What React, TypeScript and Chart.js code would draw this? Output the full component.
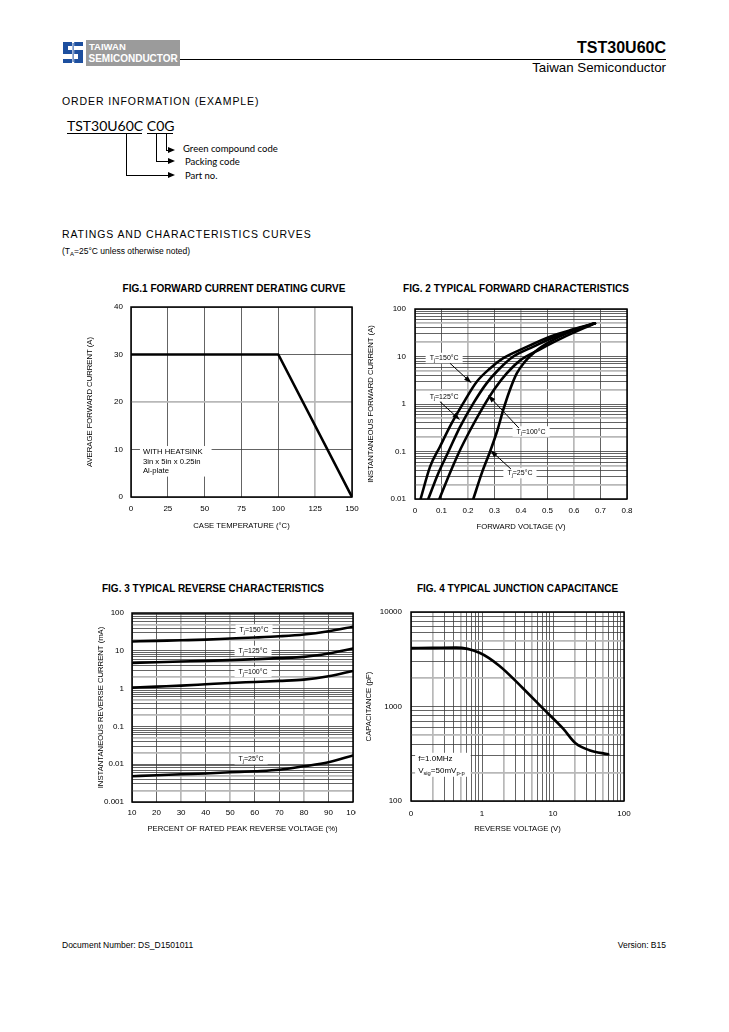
import React, { useEffect, useRef } from 'react';
import { Chart, registerables } from 'chart.js';

Chart.register(...registerables);

const FAM = 'Arial, "Liberation Sans", Helvetica, sans-serif';
const CAL = 'Lato, "Open Sans", sans-serif';
const TITLE_SIZE = 7.7;
const TICK_SIZE = 8;

// ---------------- data ----------------
// Fig 1
const fig1Temp = [0, 100, 150];
const fig1Current = [30, 30, 0];
const fig1XTicks = [0, 25, 50, 75, 100, 125, 150];
const fig1YTicks = [0, 10, 20, 30, 40];

// Fig 2 (forward voltage V, forward current A)
const fig2XTicks = [0, 0.1, 0.2, 0.3, 0.4, 0.5, 0.6, 0.7, 0.8];
const fig2XLabels = ['0', '0.1', '0.2', '0.3', '0.4', '0.5', '0.6', '0.7', '0.8'];
const fig2YMajor = [0.01, 0.1, 1, 10, 100];
const fig2YLabels = ['0.01', '0.1', '1', '10', '100'];
const fig2V150 = [0.021, 0.057, 0.094, 0.138, 0.189, 0.233, 0.283, 0.333, 0.409, 0.509, 0.597, 0.679];
const fig2I150 = [0.01, 0.048, 0.126, 0.39, 1.21, 2.95, 5.6, 9.2, 14.8, 26.1, 37.3, 50];
const fig2V125 = [0.05, 0.088, 0.126, 0.17, 0.22, 0.27, 0.314, 0.371, 0.447, 0.535, 0.679];
const fig2I125 = [0.01, 0.035, 0.099, 0.33, 1.03, 2.72, 5.2, 10, 16.1, 27, 50];
const fig2V100 = [0.092, 0.126, 0.164, 0.208, 0.258, 0.302, 0.346, 0.396, 0.472, 0.56, 0.679];
const fig2I100 = [0.01, 0.0295, 0.091, 0.28, 0.88, 2.14, 4.4, 8.2, 14.2, 25.3, 50];
const fig2V25 = [0.22, 0.252, 0.283, 0.311, 0.333, 0.358, 0.384, 0.415, 0.453, 0.509, 0.585, 0.679];
const fig2I25 = [0.01, 0.035, 0.099, 0.28, 0.75, 1.97, 4.4, 7.8, 12.6, 20.5, 33.3, 50];

// Fig 3 (percent of rated voltage, reverse current mA)
const fig3Pct = [10, 20, 30, 40, 50, 60, 70, 80, 90, 100];
const fig3XLabels = ['10', '20', '30', '40', '50', '60', '70', '80', '90', '100'];
const fig3YMajor = [0.001, 0.01, 0.1, 1, 10, 100];
const fig3YLabels = ['0.001', '0.01', '0.1', '1', '10', '100'];
const fig3I150 = [17.6, 18.3, 19.0, 19.8, 21.2, 22.5, 24.2, 27.0, 33.0, 43.4];
const fig3I125 = [4.8, 5.0, 5.2, 5.4, 5.65, 6.0, 6.4, 6.9, 8.5, 11.5];
const fig3I100 = [1.06, 1.13, 1.2, 1.3, 1.41, 1.5, 1.6, 1.73, 2.12, 2.94];
const fig3I25 = [0.0048, 0.0051, 0.0054, 0.0057, 0.0061, 0.0065, 0.0071, 0.0088, 0.0113, 0.017];

// Fig 4 (reverse voltage V, capacitance pF)
const fig4XMajor = [0.1, 1, 10, 100];
const fig4XLabels = ['0', '1', '10', '100'];
const fig4YMajor = [100, 1000, 10000];
const fig4YLabels = ['100', '1000', '10000'];
const fig4V = [0.1, 0.2, 0.43, 0.92, 1.75, 3.74, 7.15, 13.7, 21, 32.5, 60];
const fig4C = [4150, 4170, 4200, 3700, 2700, 1570, 960, 590, 405, 345, 312];

// ---------------- helpers ----------------
type Seg = { t: string; sub?: boolean };
type Lab = {
  x: number; y: number; lines: Seg[][]; align: 'left' | 'center';
  size: number; gap: number; padX: number; padR?: number;
};
type Arrow = { x1: number; y1: number; x2: number; y2: number };
type AxisSpec = {
  type: 'linear' | 'logarithmic';
  min: number;
  max: number;
  ticks: number[];
  label: (v: number) => string;
  title: string;
  gray: (v: number) => boolean;
};
type Series = { x: number[]; y: number[]; smooth: boolean };
type PlotSpec = {
  canvas: [number, number, number, number];
  area: [number, number, number, number];
  yTitleX: number;
  xTitleY: number;
  yTickRight: number;
  xTickY: number;
  x: AxisSpec;
  y: AxisSpec;
  series: Series[];
  labels: Lab[];
  arrows: Arrow[];
};

const near = (a: number, b: number) => Math.abs(a - b) <= Math.abs(b) * 1e-6 + 1e-9;

function logTicks(e0: number, e1: number): number[] {
  const out: number[] = [];
  for (let e = e0; e < e1; e++) {
    for (let s = 1; s <= 9; s++) out.push(parseFloat((s * Math.pow(10, e)).toPrecision(6)));
  }
  out.push(parseFloat(Math.pow(10, e1).toPrecision(6)));
  return out;
}
function lookup(values: number[], labels: string[]) {
  return (v: number) => {
    const i = values.findIndex((w) => near(v, w));
    return i >= 0 ? labels[i] : '';
  };
}
function sig(v: number) {
  const e = Math.floor(Math.log10(v) + 1e-9);
  return Math.round(v / Math.pow(10, e));
}
const grayLog = (v: number) => v > 0 && (sig(v) === 2 || sig(v) === 5);
const grayIn = (list: number[]) => (v: number) => list.some((w) => near(v, w));

const framePlugin = {
  id: 'frame',
  beforeDatasetsDraw(chart: any) {
    const { ctx, chartArea } = chart;
    ctx.save();
    ctx.strokeStyle = '#000';
    ctx.lineWidth = 1.5;
    ctx.strokeRect(chartArea.left, chartArea.top, chartArea.right - chartArea.left, chartArea.bottom - chartArea.top);
    ctx.restore();
  },
};

function annotPlugin(labels: Lab[], arrows: Arrow[]) {
  return {
    id: 'annot',
    beforeDatasetsDraw(chart: any) {
      const ctx = chart.ctx;
      const xs = chart.scales.x;
      const ys = chart.scales.y;
      ctx.save();
      for (const l of labels) {
        const segFont = (s: Seg) => `${s.sub ? l.size * 0.72 : l.size}px ${FAM}`;
        const widths = l.lines.map((line) =>
          line.reduce((acc, s) => {
            ctx.font = segFont(s);
            return acc + ctx.measureText(s.t).width;
          }, 0)
        );
        const maxW = Math.max(...widths);
        const px = xs.getPixelForValue(l.x);
        const py = ys.getPixelForValue(l.y);
        const left = l.align === 'center' ? px - maxW / 2 : px;
        const padTop = l.size * 0.78;
        const padBot = l.size * 0.72;
        const padR = l.padR ?? l.padX;
        ctx.fillStyle = '#fff';
        ctx.fillRect(left - l.padX, py - padTop, maxW + l.padX + padR, (l.lines.length - 1) * l.gap + padTop + padBot);
        ctx.fillStyle = '#000';
        ctx.textBaseline = 'middle';
        ctx.textAlign = 'left';
        l.lines.forEach((line, i) => {
          let cx = l.align === 'center' ? px - widths[i] / 2 : left;
          const cy = py + i * l.gap;
          for (const s of line) {
            ctx.font = segFont(s);
            ctx.fillText(s.t, cx, s.sub ? cy + l.size * 0.3 : cy);
            cx += ctx.measureText(s.t).width;
          }
        });
      }
      ctx.restore();
    },
    afterDatasetsDraw(chart: any) {
      const ctx = chart.ctx;
      const xs = chart.scales.x;
      const ys = chart.scales.y;
      ctx.save();
      ctx.strokeStyle = '#000';
      ctx.fillStyle = '#000';
      ctx.lineWidth = 1;
      for (const a of arrows) {
        const x1 = xs.getPixelForValue(a.x1);
        const y1 = ys.getPixelForValue(a.y1);
        const x2 = xs.getPixelForValue(a.x2);
        const y2 = ys.getPixelForValue(a.y2);
        const ang = Math.atan2(y2 - y1, x2 - x1);
        const c = Math.cos(ang);
        const s = Math.sin(ang);
        ctx.beginPath();
        ctx.moveTo(x1, y1);
        ctx.lineTo(x2 - 5 * c, y2 - 5 * s);
        ctx.stroke();
        ctx.beginPath();
        ctx.moveTo(x2, y2);
        ctx.lineTo(x2 - 8 * c + 2.6 * s, y2 - 8 * s - 2.6 * c);
        ctx.lineTo(x2 - 8 * c - 2.6 * s, y2 - 8 * s + 2.6 * c);
        ctx.closePath();
        ctx.fill();
      }
      ctx.restore();
    },
  };
}

function buildConfig(p: PlotSpec) {
  const [L, T, W, H] = p.canvas;
  const [cl, ct, cr, cb] = p.area;
  const tlh = TITLE_SIZE * 1.2;
  const sLeft = p.yTitleX - tlh / 2;
  const sBottom = p.xTitleY + tlh / 2;
  const yWidth = cl - sLeft;
  const xHeight = sBottom - cb;
  const axis = (a: AxisSpec, horiz: boolean) => ({
    type: a.type,
    min: a.min,
    max: a.max,
    afterBuildTicks: (s: any) => {
      s.ticks = a.ticks.map((v) => ({ value: v }));
    },
    afterFit: (s: any) => {
      if (horiz) s.height = xHeight;
      else s.width = yWidth;
      s.paddingLeft = 0;
      s.paddingRight = 0;
      s.paddingTop = 0;
      s.paddingBottom = 0;
    },
    grid: {
      drawTicks: false,
      color: (c: any) => (c.tick && a.gray(c.tick.value) ? '#b8b8b8' : '#3c3c3c'),
      lineWidth: (c: any) => (c.tick && a.gray(c.tick.value) ? 1.7 : 0.8),
    },
    border: { display: false },
    ticks: {
      autoSkip: false,
      maxRotation: 0,
      minRotation: 0,
      padding: horiz ? p.xTickY - (TICK_SIZE * 1.2) / 2 - cb : cl - p.yTickRight,
      color: '#000',
      font: { family: FAM, size: TICK_SIZE },
      callback: (v: any) => a.label(Number(v)),
    },
    title: {
      display: true,
      text: a.title,
      color: '#000',
      font: { family: FAM, size: TITLE_SIZE },
      padding: 0,
    },
  });
  return {
    type: 'line',
    data: {
      datasets: p.series.map((d) => ({
        data: d.x.map((v, i) => ({ x: v, y: d.y[i] })),
        borderColor: '#000',
        borderWidth: 2.6,
        pointRadius: 0,
        fill: false,
        tension: d.smooth ? 0.4 : 0,
        cubicInterpolationMode: d.smooth ? 'monotone' : 'default',
        borderCapStyle: 'round',
        borderJoinStyle: 'round',
      })),
    },
    options: {
      responsive: false,
      maintainAspectRatio: false,
      animation: false,
      events: [],
      layout: {
        padding: {
          left: sLeft - L,
          top: ct - T,
          right: L + W - cr,
          bottom: T + H - sBottom,
        },
      },
      plugins: { legend: { display: false }, tooltip: { enabled: false }, title: { display: false } },
      scales: { x: axis(p.x, true), y: axis(p.y, false) },
    },
    plugins: [framePlugin, annotPlugin(p.labels, p.arrows)],
  };
}

function Plot({ spec }: { spec: PlotSpec }) {
  const ref = useRef<HTMLCanvasElement>(null);
  useEffect(() => {
    const chart = new Chart(ref.current as HTMLCanvasElement, buildConfig(spec) as any);
    return () => chart.destroy();
  }, []);
  const [L, T, W, H] = spec.canvas;
  return (
    <canvas
      ref={ref}
      width={W}
      height={H}
      style={{ position: 'absolute', left: L, top: T, width: W, height: H }}
    />
  );
}

const tj = (rest: string): Seg[] => [{ t: 'T' }, { t: 'j', sub: true }, { t: rest }];

// ---------------- chart specs ----------------
const fig1Spec: PlotSpec = {
  canvas: [78, 298, 292, 240],
  area: [131, 307, 352, 497],
  yTitleX: 90,
  xTitleY: 526,
  yTickRight: 123,
  xTickY: 509,
  x: {
    type: 'linear', min: 0, max: 150, ticks: fig1XTicks,
    label: (v) => String(v), title: 'CASE TEMPERATURE (°C)', gray: grayIn([125]),
  },
  y: {
    type: 'linear', min: 0, max: 40, ticks: fig1YTicks,
    label: (v) => String(v), title: 'AVERAGE FORWARD CURRENT (A)', gray: grayIn([20]),
  },
  series: [{ x: fig1Temp, y: fig1Current, smooth: false }],
  labels: [
    {
      x: 8.1, y: 9.47, align: 'left', size: 7.7, gap: 9.5, padX: 3, padR: 9,
      lines: [[{ t: 'WITH HEATSINK' }], [{ t: '3in x 5in x 0.25in' }], [{ t: 'Al-plate' }]],
    },
  ],
  arrows: [],
};

const fig2Spec: PlotSpec = {
  canvas: [358, 298, 282, 240],
  area: [415, 309, 627, 499],
  yTitleX: 371,
  xTitleY: 527,
  yTickRight: 406,
  xTickY: 511,
  x: {
    type: 'linear', min: 0, max: 0.8, ticks: fig2XTicks,
    label: lookup(fig2XTicks, fig2XLabels), title: 'FORWARD VOLTAGE (V)', gray: grayIn([0.2, 0.4, 0.6]),
  },
  y: {
    type: 'logarithmic', min: 0.01, max: 100, ticks: logTicks(-2, 2),
    label: lookup(fig2YMajor, fig2YLabels), title: 'INSTANTANEOUS FORWARD CURRENT (A)', gray: grayLog,
  },
  series: [
    { x: fig2V150, y: fig2I150, smooth: true },
    { x: fig2V125, y: fig2I125, smooth: true },
    { x: fig2V100, y: fig2I100, smooth: true },
    { x: fig2V25, y: fig2I25, smooth: true },
  ],
  labels: [
    { x: 0.11, y: 9.2, align: 'center', size: 7, gap: 0, padX: 4, lines: [tj('=150°C')] },
    { x: 0.11, y: 1.43, align: 'center', size: 7, gap: 0, padX: 4, lines: [tj('=125°C')] },
    { x: 0.438, y: 0.261, align: 'center', size: 7, gap: 0, padX: 4, lines: [tj('=100°C')] },
    { x: 0.396, y: 0.0348, align: 'center', size: 7, gap: 0, padX: 4, lines: [tj('=25°C')] },
  ],
  arrows: [
    { x1: 0.132, y1: 7.2, x2: 0.214, y2: 2.73 },
    { x1: 0.094, y1: 1.12, x2: 0.17, y2: 0.46 },
    { x1: 0.392, y1: 0.312, x2: 0.275, y2: 1.55 },
    { x1: 0.362, y1: 0.0428, x2: 0.283, y2: 0.108 },
  ],
};

const fig3Spec: PlotSpec = {
  canvas: [80, 598, 276, 242],
  area: [132, 613, 353, 802],
  yTitleX: 101,
  xTitleY: 829,
  yTickRight: 124,
  xTickY: 813,
  x: {
    type: 'linear', min: 10, max: 100, ticks: fig3Pct,
    label: lookup(fig3Pct, fig3XLabels), title: 'PERCENT OF RATED PEAK REVERSE VOLTAGE (%)', gray: grayIn([30, 50, 80]),
  },
  y: {
    type: 'logarithmic', min: 0.001, max: 100, ticks: logTicks(-3, 2),
    label: lookup(fig3YMajor, fig3YLabels), title: 'INSTANTANEOUS REVERSE CURRENT (mA)', gray: grayLog,
  },
  series: [
    { x: fig3Pct, y: fig3I150, smooth: true },
    { x: fig3Pct, y: fig3I125, smooth: true },
    { x: fig3Pct, y: fig3I100, smooth: true },
    { x: fig3Pct, y: fig3I25, smooth: true },
  ],
  labels: [
    { x: 59.7, y: 35.4, align: 'center', size: 7, gap: 0, padX: 4, lines: [tj('=150°C')] },
    { x: 59.3, y: 9.8, align: 'center', size: 7, gap: 0, padX: 4, lines: [tj('=125°C')] },
    { x: 59.3, y: 2.72, align: 'center', size: 7, gap: 0, padX: 4, lines: [tj('=100°C')] },
    { x: 58.5, y: 0.0134, align: 'center', size: 7, gap: 0, padX: 4, lines: [tj('=25°C')] },
  ],
  arrows: [],
};

const fig4Spec: PlotSpec = {
  canvas: [355, 598, 285, 242],
  area: [411, 612, 624, 801],
  yTitleX: 369,
  xTitleY: 829,
  yTickRight: 402,
  xTickY: 814,
  x: {
    type: 'logarithmic', min: 0.1, max: 100, ticks: logTicks(-1, 2),
    label: lookup(fig4XMajor, fig4XLabels), title: 'REVERSE VOLTAGE (V)', gray: grayLog,
  },
  y: {
    type: 'logarithmic', min: 100, max: 10000, ticks: logTicks(2, 4),
    label: lookup(fig4YMajor, fig4YLabels), title: 'CAPACITANCE (pF)', gray: grayLog,
  },
  series: [{ x: fig4V, y: fig4C, smooth: true }],
  labels: [
    {
      x: 0.126, y: 278, align: 'left', size: 8, gap: 12, padX: 3, padR: 6,
      lines: [[{ t: 'f=1.0MHz' }], [{ t: 'V' }, { t: 'sig', sub: true }, { t: '=50mV' }, { t: 'p-p', sub: true }]],
    },
  ],
  arrows: [],
};

// ---------------- page text ----------------
function Txt(props: {
  x: number; y: number; size: number; bold?: boolean; align?: 'left' | 'right' | 'center';
  family?: string; spacing?: number; color?: string; children: React.ReactNode;
}) {
  const { x, y, size, bold, align = 'left', family = FAM, spacing = 0, color = '#000', children } = props;
  const style: React.CSSProperties = {
    position: 'absolute',
    top: y - size * 0.5,
    fontSize: size,
    lineHeight: `${size}px`,
    fontWeight: bold ? 700 : 400,
    fontFamily: family,
    whiteSpace: 'nowrap',
    letterSpacing: spacing,
    color,
  };
  if (align === 'left') style.left = x;
  else if (align === 'right') style.right = 729 - x;
  else {
    style.left = x;
    style.transform = 'translateX(-50%)';
  }
  return <div style={style}>{children}</div>;
}

function Line({ x, y, w, h }: { x: number; y: number; w: number; h: number }) {
  return <div style={{ position: 'absolute', left: x, top: y, width: w, height: h, background: '#000' }} />;
}

function Tri({ x, y }: { x: number; y: number }) {
  return (
    <div
      style={{
        position: 'absolute', left: x, top: y - 3.5, width: 0, height: 0,
        borderTop: '3.5px solid transparent', borderBottom: '3.5px solid transparent', borderLeft: '7px solid #000',
      }}
    />
  );
}

function Logo() {
  return (
    <>
      <svg style={{ position: 'absolute', left: 61, top: 40 }} width={24} height={25} viewBox="0 0 24 25">
        <rect x="0" y="0" width="24" height="25" fill="#fff" />
        <path d="M2 2 H22 V6 H7 V10 H22 V23 H2 V19 H17 V14 H2 Z" fill="#1d4f9f" />
        <rect x="11" y="0" width="2.2" height="25" fill="#fff" />
        <rect x="11.6" y="3" width="1" height="19" fill="#1d4f9f" />
      </svg>
      <div style={{ position: 'absolute', left: 86, top: 40, width: 94, height: 26, background: '#9b9b9b' }} />
      <Txt x={89} y={47} size={9.5} bold color="#fff">TAIWAN</Txt>
      <Txt x={88.5} y={59} size={10} bold color="#fff">SEMICONDUCTOR</Txt>
    </>
  );
}

export default function App() {
  return (
    <div
      style={{
        position: 'absolute', left: 0, top: 0, width: 729, height: 1032,
        background: '#fff', overflow: 'hidden', fontFamily: FAM, color: '#000',
      }}
    >
      <Logo />
      <Line x={180} y={59} w={486} h={1} />
      <Txt x={666} y={48} size={16} bold align="right">TST30U60C</Txt>
      <Txt x={666} y={68} size={13.3} align="right">Taiwan Semiconductor</Txt>

      <Txt x={62} y={101} size={10.5} spacing={0.9}>ORDER INFORMATION (EXAMPLE)</Txt>
      <Txt x={67} y={126} size={14} family={CAL}>TST30U60C C0G</Txt>
      <Line x={67} y={133} w={75} h={1} />
      <Line x={147} y={133} w={26} h={1} />
      {/* part no */}
      <Line x={126} y={133} w={1} h={43} />
      <Line x={126} y={175} w={43} h={1} />
      <Tri x={168} y={175.5} />
      {/* packing */}
      <Line x={156} y={133} w={1} h={29} />
      <Line x={156} y={161} w={13} h={1} />
      <Tri x={168} y={161.5} />
      {/* green */}
      <Line x={166} y={133} w={1} h={18} />
      <Line x={166} y={150} w={3} h={1} />
      <Tri x={168} y={150.5} />
      <Txt x={183} y={149} size={9.5} family={CAL}>Green compound code</Txt>
      <Txt x={185} y={162} size={9.5} family={CAL}>Packing code</Txt>
      <Txt x={185} y={176} size={9.5} family={CAL}>Part no.</Txt>

      <Txt x={62} y={234} size={10.5} spacing={0.9}>RATINGS AND CHARACTERISTICS CURVES</Txt>
      <Txt x={62} y={251} size={8.5}>
        (T<span style={{ fontSize: 6, verticalAlign: -2 }}>A</span>=25°C unless otherwise noted)
      </Txt>

      <Txt x={234} y={289} size={10} bold align="center">FIG.1 FORWARD CURRENT DERATING CURVE</Txt>
      <Txt x={516} y={289} size={10} bold align="center">FIG. 2 TYPICAL FORWARD CHARACTERISTICS</Txt>
      <Txt x={213} y={589} size={10} bold align="center">FIG. 3 TYPICAL REVERSE CHARACTERISTICS</Txt>
      <Txt x={517.5} y={589} size={10} bold align="center">FIG. 4 TYPICAL JUNCTION CAPACITANCE</Txt>

      <Plot spec={fig1Spec} />
      <Plot spec={fig2Spec} />
      <Plot spec={fig3Spec} />
      <Plot spec={fig4Spec} />

      <Txt x={62} y={945} size={8.5}>Document Number: DS_D1501011</Txt>
      <Txt x={666} y={945} size={8.5} align="right">Version: B15</Txt>
    </div>
  );
}
